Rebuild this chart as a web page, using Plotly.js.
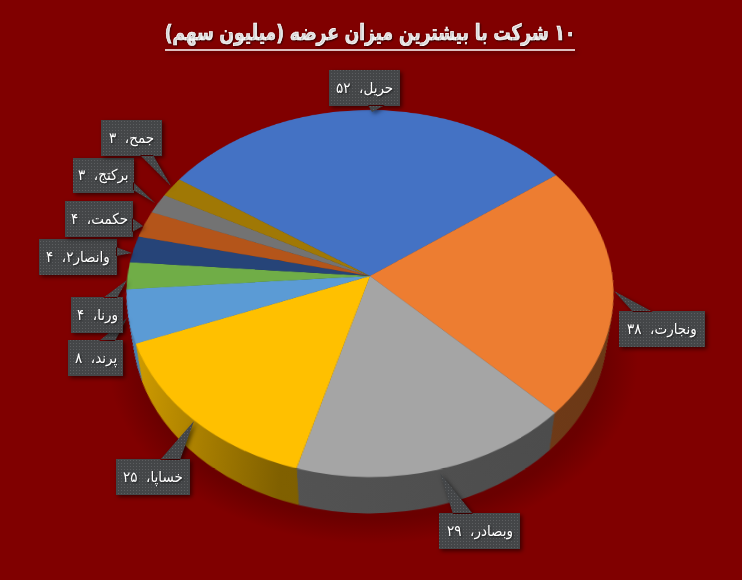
<!DOCTYPE html>
<html><head><meta charset="utf-8">
<script src="https://cdn.plot.ly/plotly-3.0.1.min.js"></script>
<style>
html,body{margin:0;padding:0;width:742px;height:580px;overflow:hidden;background-color:#800000;}
body{background-image:radial-gradient(ellipse 265px 182px at 373px 362px,rgba(60,0,0,.32) 0%,rgba(60,0,0,.32) 86%,rgba(60,0,0,0) 100%);}
#chart{width:742px;height:580px;}
.annotation-text{text-shadow:1px 1px 2px rgba(0,0,0,.6);}
.gtitle{text-shadow:1px 1px 2px rgba(0,0,0,.6);stroke:#fff;stroke-width:.7px;transform-box:fill-box;transform-origin:center;transform:scaleX(.86);}
.layer-above .shapelayer path{filter:drop-shadow(2px 2px 2px rgba(0,0,0,.55));}
</style></head><body><div id="chart"></div>
<script>
const categories=['حریل','ونجارت','وبصادر','خساپا','پرند','ورنا','وانصار۲','حکمت','برکتج','جمح'];
const values=[52,38,29,25,8,4,4,4,3,3];
const sliceColors=['#4472C4','#ED7D31','#A5A5A5','#FFC000','#5B9BD5','#70AD47','#264478','#B4551A','#737373','#A07805'];
const titleText='۱۰ شرکت با بیشترین میزان عرضه (میلیون سهم)';
// Callout geometry in picture pixels: box [x0,y0,x1,y1], then wedge [base, tip, base]
const boxes=[[329,70,400,106],[619,311,705,347],[439,513,520,549],[116,459,190,495],[68,340,123,376],[71,297,123,333],[39,239,117,275],[65,201,133,237],[73,158,134,193],[101,120,162,156]];
const wedges=[[[368,105],[372,112],[385,105]],[[633,312],[614,291],[653,312]],[[453,514],[440,473],[473,514]],[[160,460],[194,421],[180,460]],[[99,341],[127,318],[115,341]],[[103,298],[127,280],[117,298]],[[116,247],[132,253],[116,256]],[[132,218],[143,226],[132,232]],[[133,182],[155,203],[133,190]],[[140,155],[171,186],[153,155]]];
const W=742,H=580,CX=370,CY=276,R=242.4,DEPTH=50,STEP=1.5,TAPER=0.22;
const fa=n=>String(n).replace(/\d/g,d=>'۰۱۲۳۴۵۶۷۸۹'[d]);
const px=x=>x/W,py=y=>1-y/H;
function pieTrace(colors,offset){
  const r=R-offset*TAPER;
  return {type:'pie',values:values,labels:categories,sort:false,direction:'clockwise',rotation:-56,
    textinfo:'none',hoverinfo:'label+value',showlegend:false,
    marker:{colors:colors,line:{width:0}},
    domain:{x:[px(CX-r),px(CX+r)],y:[py(CY+offset+r),py(CY+offset-r)]}};
}
const traces=[];
for(let d=DEPTH;d>0;d-=STEP)traces.push(pieTrace(sliceColors,d));
const wallCount=traces.length;
traces.push(pieTrace(sliceColors,0));
const P=(x,y)=>px(x)+','+py(y);
const shapes=[{type:'line',xref:'paper',yref:'paper',x0:px(165),x1:px(575),y0:py(50),y1:py(50),line:{color:'#fff',width:1.3}}];
categories.forEach((c,i)=>{
  const b=boxes[i],w=wedges[i];
  shapes.push({type:'path',xref:'paper',yref:'paper',layer:'above',fillcolor:'#47494b',line:{width:0},
    path:`M${P(b[0],b[1])}L${P(b[2],b[1])}L${P(b[2],b[3])}L${P(b[0],b[3])}Z M${P(w[0][0],w[0][1])}L${P(w[1][0],w[1][1])}L${P(w[2][0],w[2][1])}Z`});
});
const annotations=categories.map((c,i)=>{
  const b=boxes[i];
  return {xref:'paper',yref:'paper',x:px((b[0]+b[2])/2),y:py((b[1]+b[3])/2),xanchor:'center',yanchor:'middle',showarrow:false,
    text:'\u200F'+c+'،\u00A0\u00A0'+fa(values[i])+'\u200F',font:{family:'DejaVu Sans Condensed',size:15,color:'#fff'}};
});
const layout={width:W,height:H,margin:{l:0,r:0,t:0,b:0},paper_bgcolor:'rgba(0,0,0,0)',plot_bgcolor:'rgba(0,0,0,0)',
  title:{text:'\u200F'+titleText+'\u200F',font:{family:'DejaVu Sans Condensed',size:22,color:'#fff',weight:700},x:px(370),xanchor:'center',y:py(32),yanchor:'middle'},
  shapes:shapes,annotations:annotations,showlegend:false};
function shade(hex,f){const n=parseInt(hex.slice(1),16);return `rgb(${Math.round((n>>16)*f)},${Math.round(((n>>8)&255)*f)},${Math.round((n&255)*f)})`;}
Plotly.newPlot('chart',traces,layout,{displayModeBar:false,staticPlot:false}).then(()=>{
  const svgs=document.querySelectorAll('#chart .main-svg');
  const svg=svgs[0];
  const NS='http://www.w3.org/2000/svg';
  const defs=document.createElementNS(NS,'defs');
  sliceColors.forEach((col,i)=>{
    const g=document.createElementNS(NS,'linearGradient');
    g.setAttribute('id','wall'+i);g.setAttribute('gradientUnits','userSpaceOnUse');
    g.setAttribute('x1',128);g.setAttribute('x2',613);g.setAttribute('y1',0);g.setAttribute('y2',0);
    [[0,.85],[.33,.5],[1,.45]].forEach(s=>{const e=document.createElementNS(NS,'stop');e.setAttribute('offset',s[0]);e.setAttribute('stop-color',shade(col,s[1]));g.appendChild(e);});
    defs.appendChild(g);
  });
  svg.appendChild(defs);
  svg.querySelectorAll('.pielayer .trace').forEach((t,ti)=>{
    if(ti>=wallCount)return;
    t.querySelectorAll('.slice path.surface').forEach((p,i)=>{p.style.fill=`url(#wall${i})`;});
  });
  svg.style.transformOrigin=CX+'px '+CY+'px';
  svg.style.transform='perspective(1679px) rotateX(41.4deg)';
  // fine dotted texture of the callout boxes
  const top=svgs[svgs.length-1];
  const d2=document.createElementNS(NS,'defs');
  d2.innerHTML='<pattern id="dots" width="3" height="3" patternUnits="userSpaceOnUse"><rect width="3" height="3" fill="#444648"/><rect x="1" y="1" width="1" height="1" fill="#5c5e60"/></pattern>';
  top.appendChild(d2);
  document.querySelectorAll('#chart .layer-above .shapelayer path').forEach(p=>{if(p.style.fill&&p.getAttribute('d').includes('Z'))p.style.fill='url(#dots)';});
});
</script></body></html>
